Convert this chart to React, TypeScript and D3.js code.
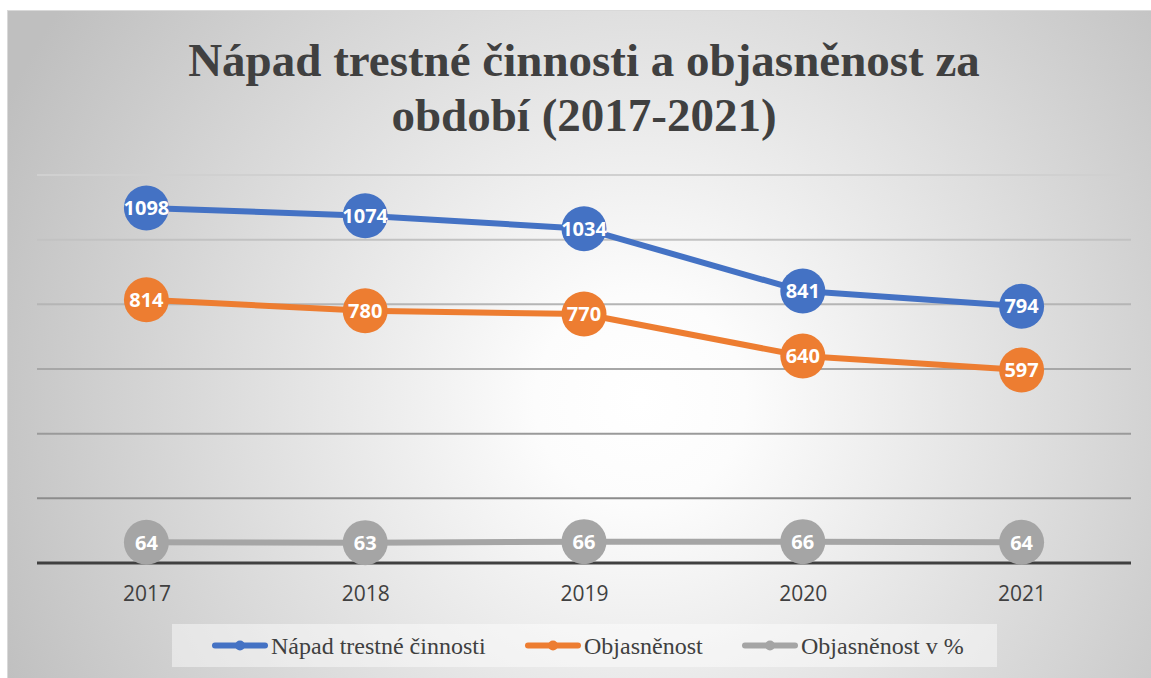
import React, { useEffect, useRef } from 'react';
import * as d3 from 'd3';

const years = ['2017', '2018', '2019', '2020', '2021'];
const napad = [1098, 1074, 1034, 841, 794];
const objasnenost = [814, 780, 770, 640, 597];
const objasnenostPct = [64, 63, 66, 66, 64];
const yTicks = [0, 200, 400, 600, 800, 1000, 1200];

const seriesList = [
    { name: 'Nápad trestné činnosti', values: napad, color: '#4472C4' },
    { name: 'Objasněnost', values: objasnenost, color: '#ED7D31' },
    { name: 'Objasněnost v %', values: objasnenostPct, color: '#A5A5A5' },
];

const App: React.FC = () => {
    const container = useRef<HTMLDivElement | null>(null);

    useEffect(() => {
        if (!container.current) return;
        d3.select(container.current).select('svg').remove();

        const width = 1151;
        const height = 678;
        const plot = { left: 37, right: 1131, top: 175, bottom: 563 };

        const svg = d3.select(container.current)
            .append('svg')
            .attr('width', width)
            .attr('height', height)
            .style('position', 'absolute')
            .style('left', '0px')
            .style('top', '0px');

        // background gradient
        const defs = svg.append('defs');
        const grad = defs.append('radialGradient')
            .attr('id', 'bg')
            .attr('gradientUnits', 'userSpaceOnUse')
            .attr('cx', 640).attr('cy', 400).attr('r', 700);
        grad.append('stop').attr('offset', '0%').attr('stop-color', '#ffffff');
        grad.append('stop').attr('offset', '15%').attr('stop-color', '#fcfcfc');
        grad.append('stop').attr('offset', '100%').attr('stop-color', '#bfbfbf');

        svg.append('rect').attr('width', width).attr('height', height).attr('fill', '#ffffff');
        svg.append('rect')
            .attr('x', 7.5).attr('y', 10.5)
            .attr('width', width - 7).attr('height', height - 10)
            .attr('fill', 'url(#bg)')
            .attr('stroke', '#d9d9d9');

        const x = d3.scalePoint<string>()
            .domain(years)
            .range([plot.left, plot.right])
            .padding(0.5);

        const y = d3.scaleLinear()
            .domain([0, 1200])
            .range([plot.bottom, plot.top]);

        const gridColor = d3.scaleLinear<string>()
            .domain([200, 1200])
            .range(['#8c8c8c', '#d0d0d0']);

        // gridlines
        svg.append('g')
            .selectAll('line')
            .data(yTicks.filter(d => d > 0))
            .join('line')
            .attr('x1', plot.left).attr('x2', plot.right)
            .attr('y1', d => y(d)).attr('y2', d => y(d))
            .attr('stroke', d => gridColor(d))
            .attr('stroke-width', 2);

        // x axis
        const xAxis = svg.append('g')
            .attr('transform', `translate(0,${plot.bottom})`)
            .call(d3.axisBottom(x).tickSize(0).tickPadding(0));
        xAxis.select('.domain')
            .attr('d', `M${plot.left},0H${plot.right}`)
            .attr('stroke', '#404040')
            .attr('stroke-width', 3);
        xAxis.selectAll('text')
            .attr('y', 38)
            .attr('dy', null)
            .attr('fill', '#404040')
            .style('font-family', '"Open Sans", sans-serif')
            .style('font-size', '21px');

        // title
        const title = svg.append('text')
            .attr('text-anchor', 'middle')
            .attr('fill', '#404040')
            .style('font-family', '"Liberation Serif", "Times New Roman", serif')
            .style('font-weight', 'bold')
            .style('font-size', '47px');
        title.append('tspan').attr('x', 584).attr('y', 76).text('Nápad trestné činnosti a objasněnost za');
        title.append('tspan').attr('x', 584).attr('y', 131).text('období (2017-2021)');

        // lines, markers and labels
        const line = d3.line<number>()
            .x((_, i) => x(years[i]) as number)
            .y(d => y(d));

        seriesList.forEach(s => {
            svg.append('path')
                .datum(s.values)
                .attr('fill', 'none')
                .attr('stroke', s.color)
                .attr('stroke-width', 6)
                .attr('stroke-linejoin', 'round')
                .attr('d', line);
        });

        seriesList.forEach(s => {
            const g = svg.append('g');
            g.selectAll('circle')
                .data(s.values)
                .join('circle')
                .attr('cx', (_, i) => x(years[i]) as number)
                .attr('cy', d => y(d))
                .attr('r', 22.5)
                .attr('fill', s.color);
            g.selectAll('text')
                .data(s.values)
                .join('text')
                .attr('x', (_, i) => x(years[i]) as number)
                .attr('y', d => y(d))
                .attr('dy', '0.36em')
                .attr('text-anchor', 'middle')
                .attr('fill', '#ffffff')
                .style('font-family', '"Open Sans", sans-serif')
                .style('font-weight', 'bold')
                .style('font-size', '20px')
                .text(d => String(d));
        });

        // legend
        svg.append('rect')
            .attr('x', 172).attr('y', 624)
            .attr('width', 825).attr('height', 43)
            .attr('fill', '#ffffff')
            .attr('fill-opacity', 0.45);

        const legendX = [212, 525, 742];
        seriesList.forEach((s, i) => {
            const lx = legendX[i];
            svg.append('line')
                .attr('x1', lx + 3).attr('x2', lx + 53)
                .attr('y1', 645.5).attr('y2', 645.5)
                .attr('stroke', s.color)
                .attr('stroke-width', 6)
                .attr('stroke-linecap', 'round');
            svg.append('circle')
                .attr('cx', lx + 28).attr('cy', 645.5)
                .attr('r', 5)
                .attr('fill', s.color);
            svg.append('text')
                .attr('x', lx + 59).attr('y', 654)
                .attr('fill', '#404040')
                .style('font-family', '"Liberation Serif", "Times New Roman", serif')
                .style('font-size', '24px')
                .text(s.name);
        });
    }, []);

    return <div ref={container}></div>;
};

export default App;
